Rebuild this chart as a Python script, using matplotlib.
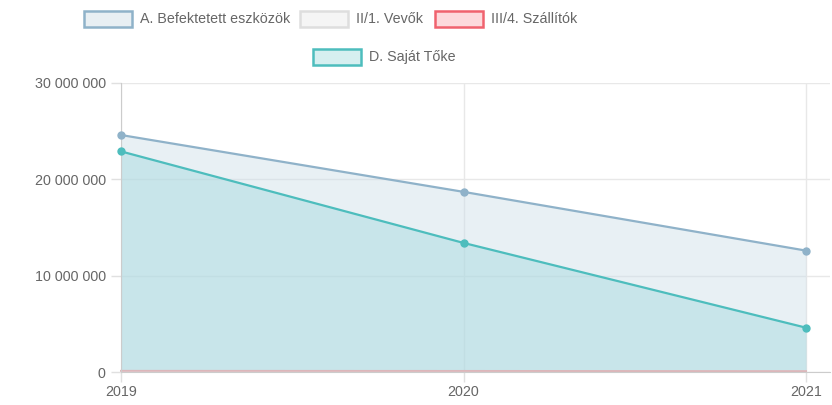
import matplotlib.pyplot as plt
from matplotlib.patches import Rectangle
from matplotlib.ticker import FuncFormatter

plt.rcParams['font.family'] = ['Liberation Sans', 'DejaVu Sans']

years = [2019, 2020, 2021]
befektetett = [24600000, 18700000, 12600000]
vevok = [60000, 50000, 40000]
szallitok = [120000, 110000, 90000]
sajat_toke = [22900000, 13400000, 4600000]

# name, values, line colour, fill colour, legend box face
series = [
    ("A. Befektetett eszközök", befektetett, "#8fb2c9", (0.80, 0.87, 0.91, 0.45), "#e8eff3"),
    ("II/1. Vevők", vevok, "#f2f2f2", (0.95, 0.95, 0.95, 0.3), "#f5f5f5"),
    ("III/4. Szállítók", szallitok, "#dcb6ba", (0.98, 0.80, 0.82, 0.3), "#fdd9dc"),
    ("D. Saját Tőke", sajat_toke, "#4dbdbd", (0.64, 0.85, 0.87, 0.45), "#d6eff0"),
]
legend_edge = ["#8fb2c9", "#dedede", "#f0626e", "#4dbdbd"]

W, H = 832, 405
fig = plt.figure(figsize=(W / 100, H / 100), dpi=100)
ax = fig.add_axes([121 / W, (H - 372) / H, (830 - 121) / W, (372 - 83) / H])

for i, (name, vals, line_c, fill_c, _) in enumerate(series):
    ax.fill_between(years, 0, vals, color=fill_c, linewidth=0, zorder=1)
    big = i in (0, 3)
    ax.plot(years, vals, color=line_c, lw=1.6 if big else 1.4,
            marker='o' if big else None, ms=5,
            markeredgecolor=line_c, markerfacecolor=line_c,
            zorder=3 if big else 2, clip_on=False)

ax.set_xlim(2019, 2021.07)
ax.set_ylim(0, 30000000)
ax.set_xticks(years)
ax.set_yticks([0, 10000000, 20000000, 30000000])
ax.yaxis.set_major_formatter(FuncFormatter(lambda v, p: f"{int(v):,}".replace(",", " ")))
ax.grid(True, color="#e8e8e8", lw=1)
ax.set_axisbelow(True)
for s in ["top", "right"]:
    ax.spines[s].set_visible(False)
ax.spines["left"].set_color("#cccccc")
ax.spines["bottom"].set_color("#cccccc")
ax.tick_params(colors="#666666", labelsize=10.3, length=7, width=1)
ax.tick_params(axis='x', color="#e0e0e0", pad=2)
ax.tick_params(axis='y', color="#e0e0e0", pad=4)

# legend boxes drawn by hand so the second row stays centred
legend_items = [
    (84, 19, 0), (300, 19, 1), (435, 19, 2), (313, 57, 3),
]
for x0, yc, i in legend_items:
    name = series[i][0]
    r = Rectangle((x0 / W, (H - yc - 8) / H), 48 / W, 16 / H, transform=fig.transFigure,
                  facecolor=series[i][4], edgecolor=legend_edge[i], lw=1.8)
    fig.add_artist(r)
    fig.text((x0 + 56) / W, (H - yc) / H, name, color="#666666", fontsize=10.3,
             va="center", ha="left")

fig.savefig("out.png", dpi=100, facecolor="white")
